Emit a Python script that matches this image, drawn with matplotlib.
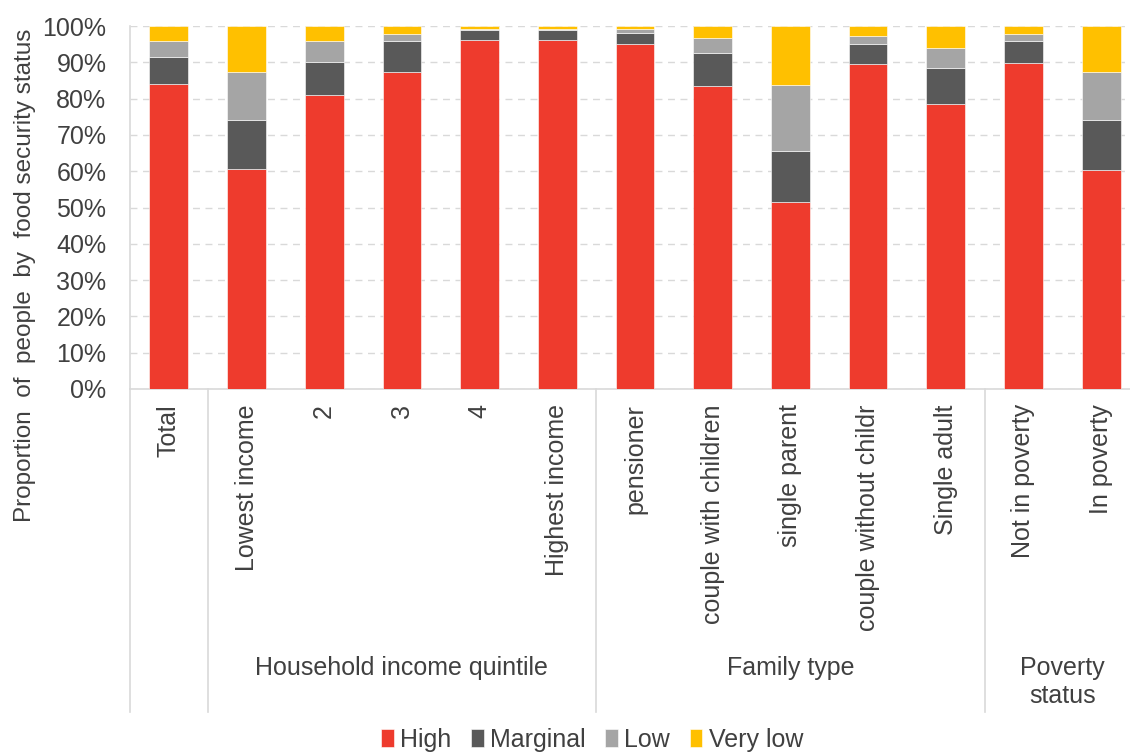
import matplotlib.pyplot as plt
import matplotlib.transforms as mtransforms
from matplotlib.ticker import PercentFormatter

plt.rcParams['font.family'] = ['Liberation Sans', 'DejaVu Sans']

categories = ["Total", "Lowest income", "2", "3", "4", "Highest income",
              "pensioner", "couple with children", "single parent",
              "couple without childr", "Single adult",
              "Not in poverty", "In poverty"]

high = [84.0, 60.5, 80.9, 87.2, 96.1, 96.1, 95.0, 83.6, 51.5, 89.6, 78.6, 89.9, 60.2]
marginal = [7.5, 13.6, 9.1, 8.8, 2.7, 2.8, 3.2, 9.0, 14.0, 5.4, 9.7, 5.9, 14.0]
low = [4.3, 13.1, 5.8, 1.7, 0.5, 0.4, 1.1, 4.2, 18.3, 2.2, 5.6, 2.1, 13.2]
very_low = [4.2, 12.8, 4.2, 2.3, 0.7, 0.7, 0.7, 3.2, 16.2, 2.8, 6.1, 2.1, 12.6]

groups = ["Household income quintile", "Family type", "Poverty\nstatus"]
group_spans = [(0.5, 5.5), (5.5, 10.5), (10.5, 12.5)]

series = [("High", high, "#EE3B2D"),
          ("Marginal", marginal, "#595959"),
          ("Low", low, "#A5A5A5"),
          ("Very low", very_low, "#FFC000")]

FS = 18
TXT = "#404040"

fig = plt.figure(figsize=(11.3, 7.52), dpi=100)
ax = fig.add_axes([130 / 1130, 1 - 389 / 752, 1010 / 1130, 363 / 752])

x = list(range(len(categories)))
bottom = [0.0] * len(categories)
for name, vals, color in series:
    ax.bar(x, vals, width=0.5, bottom=bottom, color=color, label=name,
           edgecolor="white", linewidth=0.4, zorder=3)
    bottom = [b + v for b, v in zip(bottom, vals)]

ax.set_xlim(-0.5, len(categories) - 0.5)
ax.set_ylim(0, 100)
ax.set_yticks(range(0, 101, 10))
ax.yaxis.set_major_formatter(PercentFormatter(decimals=0))
ax.grid(axis="y", color="#D9D9D9", linestyle=(0, (5, 4)), linewidth=1, zorder=0)

ax.set_xticks(x)
ax.set_xticklabels(categories, rotation=90, va="top", ha="center")
ax.tick_params(axis="x", length=0, pad=11, labelsize=FS, colors=TXT)
ax.tick_params(axis="y", length=0, pad=17, labelsize=FS, colors=TXT)

for side in ["top", "right"]:
    ax.spines[side].set_visible(False)
for side in ["left", "bottom"]:
    ax.spines[side].set_color("#D9D9D9")
    ax.spines[side].set_linewidth(1.2)

ax.set_ylabel("Proportion  of  people  by  food security status",
              fontsize=17.5, color=TXT)
ax.yaxis.set_label_coords(-0.093, 0.314)

# category group box below the axis
trans = mtransforms.blended_transform_factory(ax.transData, ax.transAxes)
box_bottom = (389 - 712) / 363
for sep in [-0.5, 0.5, 5.5, 10.5]:
    ax.plot([sep, sep], [0, box_bottom], transform=trans, color="#D9D9D9",
            linewidth=1.2, clip_on=False)

label_y = (389 - 656) / 363
for name, (a, b) in zip(groups, group_spans):
    ax.text((a + b) / 2, label_y, name, transform=trans, ha="center", va="top",
            fontsize=FS, color=TXT, linespacing=1.2)

fig.legend(loc="center", bbox_to_anchor=(592 / 1130, 1 - 740 / 752), ncol=4,
           frameon=False, fontsize=FS, handlelength=0.5, handleheight=0.75,
           handletextpad=0.25, columnspacing=0.8, labelcolor=TXT)

fig.savefig("out.png", dpi=100)
